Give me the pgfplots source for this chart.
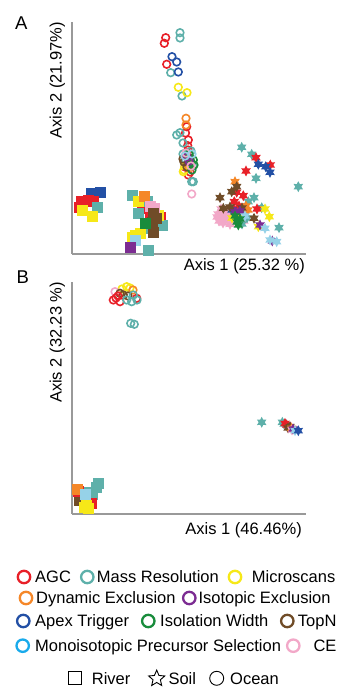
\documentclass[border=0pt]{standalone}
\usepackage{pgfplots}
\pgfplotsset{compat=1.18}
\usepackage{fontspec}
\setmainfont{Liberation Sans}
\usetikzlibrary{shapes.geometric}
\definecolor{cAGC}{RGB}{232,32,40}
\definecolor{cMR}{RGB}{94,176,170}
\definecolor{cMS}{RGB}{246,232,24}
\definecolor{cDE}{RGB}{245,135,40}
\definecolor{cIE}{RGB}{124,44,146}
\definecolor{cAT}{RGB}{35,80,165}
\definecolor{cIW}{RGB}{25,140,60}
\definecolor{cTN}{RGB}{112,76,40}
\definecolor{cMP}{RGB}{25,170,235}
\definecolor{cMPp}{RGB}{150,210,232}
\definecolor{cCE}{RGB}{242,168,200}
\pgfdeclareplotmark{star6}{%
  \pgfpathmoveto{\pgfpointpolar{90}{\pgfplotmarksize}}%
  \pgfpathlineto{\pgfpointpolar{120}{0.55\pgfplotmarksize}}%
  \pgfpathlineto{\pgfpointpolar{150}{\pgfplotmarksize}}%
  \pgfpathlineto{\pgfpointpolar{180}{0.55\pgfplotmarksize}}%
  \pgfpathlineto{\pgfpointpolar{210}{\pgfplotmarksize}}%
  \pgfpathlineto{\pgfpointpolar{240}{0.55\pgfplotmarksize}}%
  \pgfpathlineto{\pgfpointpolar{270}{\pgfplotmarksize}}%
  \pgfpathlineto{\pgfpointpolar{300}{0.55\pgfplotmarksize}}%
  \pgfpathlineto{\pgfpointpolar{330}{\pgfplotmarksize}}%
  \pgfpathlineto{\pgfpointpolar{0}{0.55\pgfplotmarksize}}%
  \pgfpathlineto{\pgfpointpolar{30}{\pgfplotmarksize}}%
  \pgfpathlineto{\pgfpointpolar{60}{0.55\pgfplotmarksize}}%
  \pgfpathclose
  \pgfusepathqfill
}
\pgfplotsset{
  ocean/.style={only marks, mark=o, mark size=3.8bp, mark options={line width=1.6bp}},
  river/.style={only marks, mark=square*, mark size=5bp, mark options={line width=0.2bp}},
  soil/.style={only marks, mark=star6, mark size=5.5bp},
  pcoa/.style={scale only axis, width=234bp, height=232bp,
    xmin=0, xmax=234, ymin=0, ymax=232,
    axis x line=bottom, axis y line=left,
    axis line style={-, draw=black!40, line width=1.3bp},
    xtick=\empty, ytick=\empty, clip=false},
}
\begin{document}
\begin{tikzpicture}[x=1bp, y=1bp, font=\fontsize{16.5bp}{20bp}\selectfont]
\path[use as bounding box] (0,0) rectangle (337,687);
% ---------------- Panel A ----------------
\begin{axis}[pcoa, at={(72,433)}, anchor=south west]
% River (squares)
\addplot[river, cAT] coordinates {(19,60.5) (28,62)};
\addplot[river, cAGC] coordinates {(9.5,53) (16,53.5) (21,52.5) (7.5,47) (69.7,49) (78,42.3) (88,37.3) (76,46)};
\addplot[river, cMR] coordinates {(24.7,47) (59.7,59) (74.7,53.3) (66.3,41.3) (89.7,29) (76,26) (76.3,4) (84,33)};
\addplot[river, cMS] coordinates {(9.7,44) (19.7,38) (66.3,53.3) (86.3,39) (68,20.7) (59.7,17.3) (63,19)};
\addplot[river, cDE] coordinates {(72,58)};
\addplot[river, cCE] coordinates {(78,48) (82,46)};
\addplot[river, cTN] coordinates {(81.3,40.7) (80.7,22.3) (84,36) (80,32)};
\addplot[river, cIW] coordinates {(73,30.7)};
\addplot[river, cMPp] coordinates {(63,14)};
\addplot[river, cIE] coordinates {(58,7.3)};
% Soil (stars)
\addplot[soil, cCE] coordinates {(158,29.7) (146,40) (148,36) (150,42) (152,38) (147,33) (155,35) (153,43) (161,32) (172,33) (145,37) (151,31) (156,40) (149,45)};
\addplot[soil, cMR] coordinates {(169.7,106.7) (179.7,99.7) (184,75.7) (226.3,67.3) (182,56.3) (176.3,52.3) (189.7,46.3) (207,26.3) (172,42) (175,36) (170,30)};
\addplot[soil, cAGC] coordinates {(184,96.3) (198.3,89) (174,83) (164.7,61.7) (171.3,58.3) (162.3,52.3) (185,45) (162,45) (167,48)};
\addplot[soil, cAT] coordinates {(186.3,89.7) (193.7,87.3) (198,81.7) (160,44) (170,40)};
\addplot[soil, cDE] coordinates {(163,72.3) (176,44) (174,48)};
\addplot[soil, cTN] coordinates {(164.7,67.3) (159.7,62.3) (148,56.3) (151.3,45.7) (182,35.7) (158,47) (170,46)};
\addplot[soil, cMS] coordinates {(193,45) (197.3,37.3) (186.3,27.3) (160,36) (166,40)};
\addplot[soil, cIE] coordinates {(188,29) (200.3,13) (163,42) (168,43)};
\addplot[soil, cMPp] coordinates {(193,25.7) (198,14) (204.7,12.3) (173,38)};
\addplot[soil, cIW] coordinates {(166.3,29) (163,38) (168,35) (165,32)};
% Ocean (circles)
\addplot[ocean, cAGC] coordinates {(93.7,216.3) (92.3,210.7) (94.7,189.7) (114.7,127.3) (116.3,114) (116.3,79) (115.7,108.3) (116,104) (113,87) (118,82) (113.5,121)};
\addplot[ocean, cMR] coordinates {(108,221.3) (108,216) (98.7,181.3) (110,158) (119.7,72.3) (121.3,72.3) (104.7,119) (108,121.3) (111,100) (113,95) (119,103) (121,88) (111,111)};
\addplot[ocean, cAT] coordinates {(100,197.3) (104.7,192) (106.3,182) (116,90)};
\addplot[ocean, cMS] coordinates {(106.3,166.7) (115,161.3) (111.3,82.3) (113,88) (112,84)};
\addplot[ocean, cDE] coordinates {(114,135.7) (114,129) (117,86)};
\addplot[ocean, cTN] coordinates {(112,92) (115,87) (118,96) (111,95)};
\addplot[ocean, cIW] coordinates {(119,92) (121.3,94) (120,84) (117,100) (122,89)};
\addplot[ocean, cIE] coordinates {(115,97) (117,93)};
\addplot[ocean, cCE] coordinates {(119.7,60) (114,101) (119,88)};
\addplot[ocean, cMPp] coordinates {(113,98) (120,100)};
\end{axis}
% ---------------- Panel B ----------------
\begin{axis}[pcoa, at={(72,173)}, anchor=south west]
% River (squares)
\addplot[river, cMR] coordinates {(26,31) (24,27) (20,20) (16,22)};
\addplot[river, cTN] coordinates {(8,20) (7,14) (10,17)};
\addplot[river, cAGC] coordinates {(6,23) (19,11)};
\addplot[river, cDE] coordinates {(5,25)};
\addplot[river, cMS] coordinates {(12,7) (16,6) (14,9)};
\addplot[river, cMPp] coordinates {(13,20)};
% Soil (stars)
\addplot[soil, cMR] coordinates {(189.7,91.7) (210.3,91.7) (212,90)};
\addplot[soil, cAGC] coordinates {(214.7,89) (213,90.5)};
\addplot[soil, cTN] coordinates {(218,87.3) (216,86)};
\addplot[soil, cDE] coordinates {(219.7,85.7)};
\addplot[soil, cCE] coordinates {(220,84)};
\addplot[soil, cIE] coordinates {(221,85)};
\addplot[soil, cMPp] coordinates {(223,83.3)};
\addplot[soil, cAT] coordinates {(226.3,83.3)};
% Ocean (circles)
\addplot[ocean, cMS] coordinates {(54.7,227.3) (58,226) (50,225)};
\addplot[ocean, cCE] coordinates {(43,222.3)};
\addplot[ocean, cDE] coordinates {(61,224)};
\addplot[ocean, cTN] coordinates {(51.3,219) (48,220.7) (56,218)};
\addplot[ocean, cAGC] coordinates {(41.3,214) (48,212.3) (64.7,215.7) (46,218) (44,216)};
\addplot[ocean, cMR] coordinates {(54.7,214) (59.7,212.3) (61.3,219) (65,214) (58.7,190.7) (62.3,189.7)};
\end{axis}
% ---------------- labels ----------------
\node[anchor=base west, inner sep=0, font=\fontsize{18.5bp}{22bp}\selectfont] at (15,657) {A};
\node[anchor=base west, inner sep=0, font=\fontsize{18.5bp}{22bp}\selectfont] at (16.5,403.7) {B};
\node[anchor=base east, inner sep=0] at (305,416.3) {Axis 1 (25.32 \%)};
\node[anchor=base east, inner sep=0, rotate=90] at (61.7,665.3) {Axis 2 (21.97\%)};
\node[anchor=base east, inner sep=0] at (302,152) {Axis 1 (46.46\%)};
\node[anchor=base east, inner sep=0, rotate=90] at (61.7,405.3) {Axis 2 (32.23 \%)};
% ---------------- legend ----------------
\begin{scope}[line width=2.3bp]
\draw[cAGC] (24,110) circle (6.2bp);
\draw[cMR] (87.3,110) circle (6.2bp);
\draw[cMS] (235,110) circle (6.2bp);
\draw[cDE] (26,89) circle (6.2bp);
\draw[cIE] (189.3,89) circle (6.2bp);
\draw[cAT] (23.3,66) circle (6.2bp);
\draw[cIW] (148.3,66) circle (6.2bp);
\draw[cTN] (287.3,66) circle (6.2bp);
\draw[cMP] (22.7,41.3) circle (6.2bp);
\draw[cCE] (293.3,41.3) circle (6.2bp);
\end{scope}
\node[anchor=base west, inner sep=0] at (35,104.1) {AGC};
\node[anchor=base west, inner sep=0] at (96.7,104.1) {Mass Resolution};
\node[anchor=base west, inner sep=0] at (251.7,104.1) {Microscans};
\node[anchor=base west, inner sep=0] at (36,83.1) {Dynamic Exclusion};
\node[anchor=base west, inner sep=0] at (198.3,83.1) {Isotopic Exclusion};
\node[anchor=base west, inner sep=0] at (35,60.1) {Apex Trigger};
\node[anchor=base west, inner sep=0] at (160,60.1) {Isolation Width};
\node[anchor=base west, inner sep=0] at (297.7,60.1) {TopN};
\node[anchor=base west, inner sep=0] at (35,35.4) {Monoisotopic Precursor Selection};
\node[anchor=base west, inner sep=0] at (313.3,35.4) {CE};
\draw[line width=0.9bp] (68.5,2.2) rectangle (81.5,15.2);
\node[star, star points=5, star point ratio=2.2, draw, line width=0.9bp, minimum size=17bp, inner sep=0] at (156.7,8.4) {};
\draw[line width=0.9bp] (216.7,8.7) circle (7bp);
\node[anchor=base west, inner sep=0] at (91.7,2.8) {River};
\node[anchor=base west, inner sep=0] at (168.3,2.8) {Soil};
\node[anchor=base west, inner sep=0] at (230,2.8) {Ocean};
\end{tikzpicture}
\end{document}
